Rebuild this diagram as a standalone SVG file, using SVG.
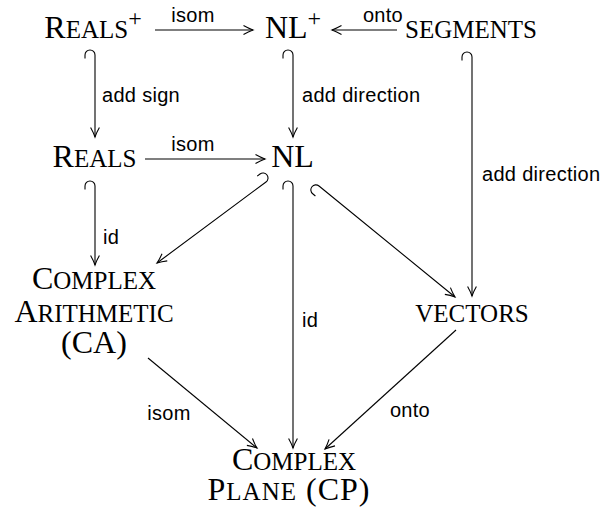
<svg xmlns="http://www.w3.org/2000/svg" width="606" height="511" viewBox="0 0 606 511">
<style>
.n{font-family:"Liberation Serif",serif;font-size:32px;fill:#000}
.sc{font-size:25px}
.sup{font-size:24px}
.lb{font-family:"Liberation Sans",sans-serif;font-size:20px;letter-spacing:0.3px;fill:#000}
.e{fill:none;stroke:#000;stroke-width:1.1;marker-end:url(#ah)}
</style>
<defs>
<marker id="ah" markerUnits="userSpaceOnUse" markerWidth="20" markerHeight="20" viewBox="-10 -10 20 20" refX="0" refY="0" orient="auto" overflow="visible">
<path d="M-9.5,-4.4 C-6,-2.4 -2,-0.7 0,0 C-2,0.7 -6,2.4 -9.5,4.4" fill="none" stroke="#000" stroke-width="1.1"/>
</marker>
</defs>
<rect width="606" height="511" fill="#fff"/>
<g id="connectors">
<path class="e" d="M155 30 H253"/>
<path class="e" d="M397 30 H332"/>
<path class="e" d="M85 58.5 V55 A5 5 0 0 1 95 55 V137"/>
<path class="e" d="M283 58.5 V55 A5 5 0 0 1 293 55 V137"/>
<path class="e" d="M462 60.5 V57 A5 5 0 0 1 472 57 V296"/>
<path class="e" d="M145 159 H265"/>
<path class="e" d="M85 189.5 V186 A5 5 0 0 1 95 186 V265"/>
<path class="e" d="M257.2 176.1 L260 174 A5 5 0 0 1 266 182 L157 263"/>
<path class="e" d="M283 189.5 V186 A5 5 0 0 1 293 186 V448"/>
<path class="e" d="M315.4 196 L312.7 193.8 A5 5 0 0 1 319 186 L455 297"/>
<path class="e" d="M148 358 L257 448"/>
<path class="e" d="M456 330 L325 449"/>
<text class="lb" x="193" y="22" text-anchor="middle">isom</text>
<text class="lb" x="383" y="22" text-anchor="middle">onto</text>
<text class="lb" x="102" y="102">add sign</text>
<text class="lb" x="302" y="102">add direction</text>
<text class="lb" x="482" y="181">add direction</text>
<text class="lb" x="193" y="151" text-anchor="middle">isom</text>
<text class="lb" x="103" y="244">id</text>
<text class="lb" x="302" y="327">id</text>
<text class="lb" x="169" y="420" text-anchor="middle">isom</text>
<text class="lb" x="410" y="417" text-anchor="middle">onto</text>
</g>
<g id="reals-plus"><text class="n" x="93" y="38" text-anchor="middle">R<tspan class="sc">EALS</tspan><tspan class="sup" dy="-12.5">+</tspan></text></g>
<g id="nl-plus"><text class="n" x="293" y="38" text-anchor="middle">NL<tspan class="sup" dy="-12.5">+</tspan></text></g>
<g id="segments"><text class="n sc" x="471" y="38" text-anchor="middle">SEGMENTS</text></g>
<g id="reals"><text class="n" x="94.5" y="167" text-anchor="middle">R<tspan class="sc">EALS</tspan></text></g>
<g id="nl"><text class="n" x="292.5" y="167" text-anchor="middle">NL</text></g>
<g id="ca">
<text class="n" x="94" y="289" text-anchor="middle">C<tspan class="sc">OMPLEX</tspan></text>
<text class="n" x="94" y="322" text-anchor="middle">A<tspan class="sc">RITHMETIC</tspan></text>
<text class="n" x="94" y="353" text-anchor="middle">(CA)</text>
</g>
<g id="vectors"><text class="n sc" x="472" y="322" text-anchor="middle">VECTORS</text></g>
<g id="cp">
<text class="n" x="294" y="470" text-anchor="middle">C<tspan class="sc">OMPLEX</tspan></text>
<text class="n" x="289" y="500" text-anchor="middle" style="letter-spacing:1px">P<tspan class="sc">LANE</tspan> (CP)</text>
</g>
</svg>
